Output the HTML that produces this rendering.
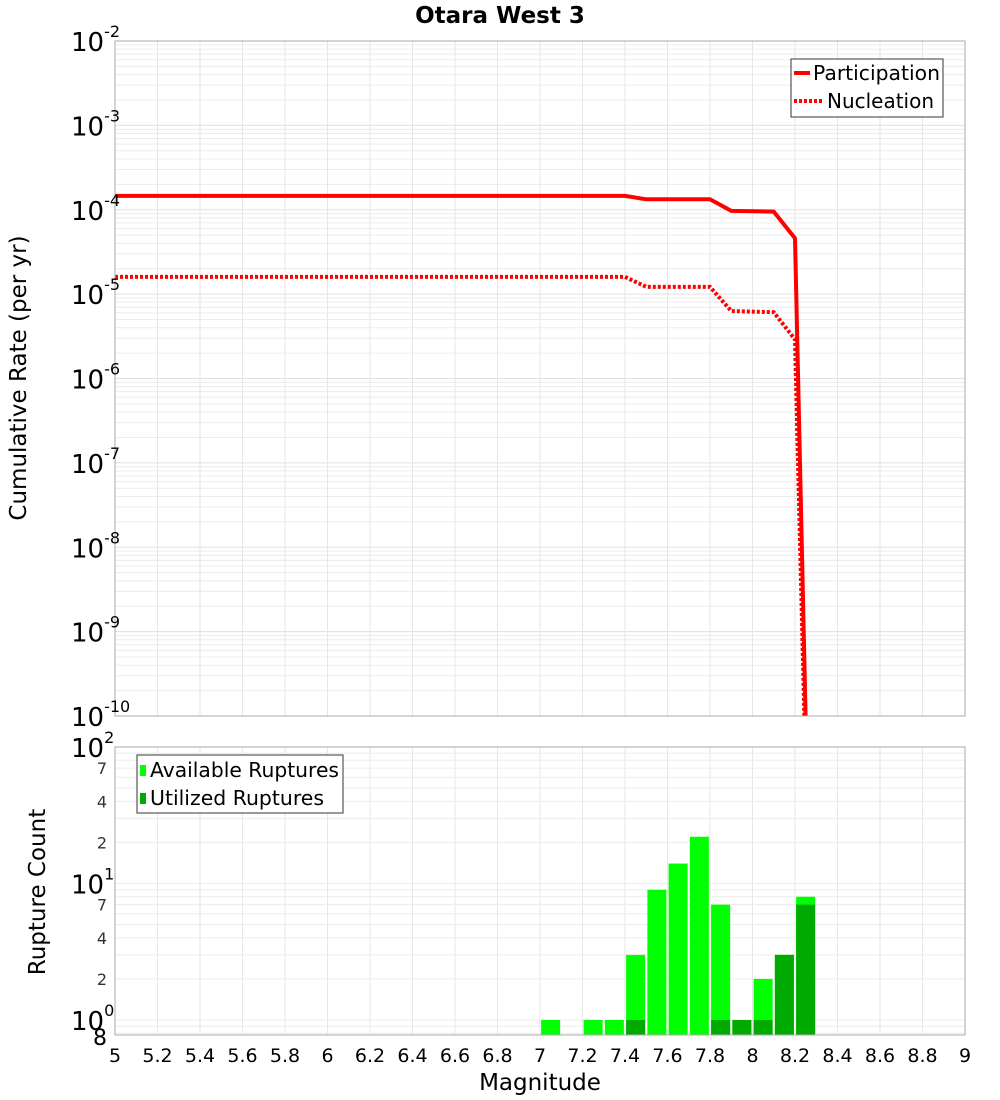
<!DOCTYPE html>
<html><head><meta charset="utf-8"><style>
html,body{margin:0;background:#fff;overflow:hidden;width:1000px;height:1100px;font-family:"DejaVu Sans","Liberation Sans",sans-serif;}
svg{display:block;}
svg text{font-family:"DejaVu Sans","Liberation Sans",sans-serif;}
</style></head><body>
<svg id="chart" width="1000" height="1100" xmlns="http://www.w3.org/2000/svg">
<text x="500" y="23" text-anchor="middle" font-size="23" font-weight="bold">Otara West 3</text>
<g id="top-grid"></g>
<g id="bot-grid"></g>
<g id="bars"></g>
<g id="lines"></g>
<rect x="115" y="41" width="850" height="675" fill="none" stroke="#aaa"/>
<rect x="115" y="747" width="850" height="288" fill="none" stroke="#aaa"/>
<g id="ylab-top"></g>
<g id="ylab-bot"></g>
<g id="xlab"></g>
<text transform="translate(26,378) rotate(-90)" text-anchor="middle" font-size="23">Cumulative Rate (per yr)</text>
<text transform="translate(45,892) rotate(-90)" text-anchor="middle" font-size="23">Rupture Count</text>
<text x="540" y="1090" text-anchor="middle" font-size="23">Magnitude</text>
<g>
<rect x="791" y="59" width="152" height="58" fill="#fff" stroke="#333"/>
<line x1="794" y1="73" x2="810" y2="73" stroke="#f00" stroke-width="4"/>
<text x="813" y="80" font-size="20" textLength="127" lengthAdjust="spacingAndGlyphs">Participation</text>
<line x1="794" y1="101" x2="822" y2="101" stroke="#f00" stroke-width="4" stroke-dasharray="3,2"/>
<text x="827" y="108" font-size="20" textLength="107" lengthAdjust="spacingAndGlyphs">Nucleation</text>
</g>
<g>
<rect x="137" y="755" width="206" height="58" fill="#fff" stroke="#333"/>
<rect x="140" y="765" width="6" height="11" fill="#00ff00"/>
<text x="150" y="777" font-size="20" textLength="189" lengthAdjust="spacingAndGlyphs">Available Ruptures</text>
<rect x="140" y="793" width="6" height="11" fill="#00aa00"/>
<text x="150" y="805" font-size="20" textLength="174" lengthAdjust="spacingAndGlyphs">Utilized Ruptures</text>
</g>
</svg>
<script>
const mags=[5,7.4,7.5,7.8,7.9,8.1,8.2,8.3];
const partRate=[1.46e-4,1.46e-4,1.33e-4,1.33e-4,9.7e-5,9.5e-5,4.6e-5,2e-16];
const nuclRate=[1.6e-5,1.6e-5,1.22e-5,1.22e-5,6.3e-6,6.1e-6,2.9e-6,2e-16];
const binCenters=[7.05,7.25,7.35,7.45,7.55,7.65,7.75,7.85,7.95,8.05,8.15,8.25];
const availCounts=[1,1,1,3,9,14,22,7,1,2,3,8];
const usedCounts=[0,0,0,1,0,0,0,1,1,1,3,7];
const xTicks=[5,5.2,5.4,5.6,5.8,6,6.2,6.4,6.6,6.8,7,7.2,7.4,7.6,7.8,8,8.2,8.4,8.6,8.8,9];
const topExps=[-2,-3,-4,-5,-6,-7,-8,-9,-10];
const botMinor=[[100,'2'],[70,'7'],[40,'4'],[20,'2'],[10,'1'],[7,'7'],[4,'4'],[2,'2'],[1,'0'],[0.8,'8']];
const NS='http://www.w3.org/2000/svg';
const X=m=>115+(m-5)*212.5;
const YT=v=>41+(-2-Math.log10(v))*84.375;
const YB=v=>1020-Math.log10(v)*136.5;
function mk(tag,attrs,parent){const e=document.createElementNS(NS,tag);for(const k in attrs)e.setAttribute(k,attrs[k]);(typeof parent==='string'?document.getElementById(parent):parent).appendChild(e);return e;}
for(let d=-10;d<-2;d++){for(let k=1;k<10;k++){const y=YT(k*Math.pow(10,d));
const l=mk('line',{x1:115,x2:965,y1:y,y2:y,stroke:k==1?'#e0e0e0':'#ececec','stroke-width':1},'top-grid');

}}
xTicks.forEach(t=>{const l=mk('line',{x1:X(t),x2:X(t),y1:41,y2:716,stroke:'#e6e6e6'},'top-grid');


const l2=mk('line',{x1:X(t),x2:X(t),y1:747,y2:1035,stroke:'#e6e6e6'},'bot-grid');


const tx=mk('text',{x:X(t),y:1062,'text-anchor':'middle','font-size':19},'xlab');tx.textContent=String(t);

});
for(let d=-1;d<2;d++){for(let k=1;k<10;k++){const v=k*Math.pow(10,d);const y=YB(v);if(y<747||y>1035)continue;
const l=mk('line',{x1:115,x2:965,y1:y,y2:y,stroke:'#ececec'},'bot-grid');

}}
topExps.forEach(e=>{const y=YT(Math.pow(10,e));
const t=mk('text',{x:71,y:y+10,'font-size':26},'ylab-top');t.textContent='10';


const s=mk('tspan',{dy:-14,'font-size':16},t);s.textContent=String(e);});
botMinor.forEach(([v,lab])=>{const y=YB(v);
if(v==100||v==10||v==1){const t=mk('text',{x:71,y:y+10,'font-size':26},'ylab-bot');t.textContent='10';


const s=mk('tspan',{dy:-14,'font-size':16},t);s.textContent=lab;}
else{const t=mk('text',{x:107,y:y+(v==0.8?12:6),'text-anchor':'end','font-size':v==0.8?22:16,fill:v==0.8?'#000':'#333'},'ylab-bot');t.textContent=lab;

}});
const bw=19;
binCenters.forEach((c,i)=>{const top=Math.max(YB(availCounts[i]),747);
const r=mk('rect',{x:X(c)-bw/2,y:top,width:bw,height:1035-top,fill:'#00ff00'},'bars');


if(usedCounts[i]>0){const t2=Math.max(YB(usedCounts[i]),747);
const u=mk('rect',{x:X(c)-bw/2,y:t2,width:bw,height:1035-t2,fill:'#00aa00'},'bars');

}});
const cpath=mk('clipPath',{id:'clipTop'},'lines');
mk('rect',{x:115,y:41,width:850,height:675},cpath);
function pts(arr){return mags.map((m,i)=>X(m)+','+YT(arr[i])).join(' ');}
const pn=mk('polyline',{points:pts(nuclRate),fill:'none',stroke:'#f00','stroke-width':4,'stroke-dasharray':'3,2','clip-path':'url(#clipTop)'},'lines');


const pp=mk('polyline',{points:pts(partRate),fill:'none',stroke:'#f00','stroke-width':4,'stroke-linejoin':'round','clip-path':'url(#clipTop)'},'lines');


</script>
</body></html>
